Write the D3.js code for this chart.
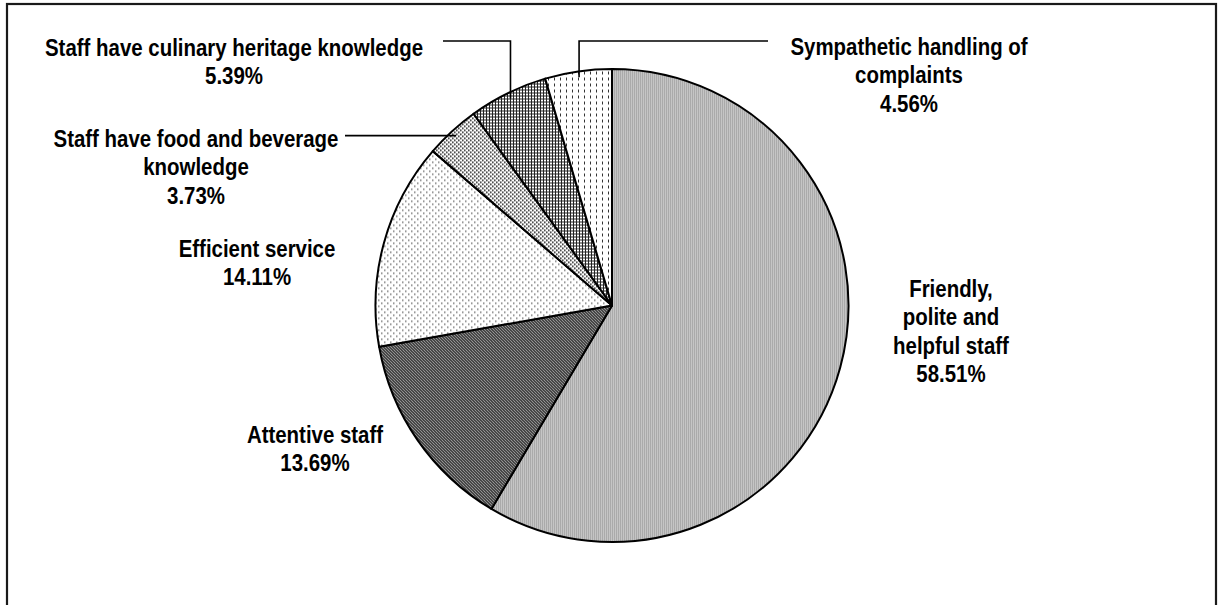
<!DOCTYPE html>
<html>
<head>
<meta charset="utf-8">
<script src="https://cdn.jsdelivr.net/npm/d3@7"></script>
<style>
  html, body { margin: 0; padding: 0; background: #fff; }
  svg { display: block; }
</style>
</head>
<body>
<svg id="chart" width="1218" height="605"></svg>
<script>
// ---- data ----
const categories = [
  "Friendly, polite and helpful staff",
  "Attentive staff",
  "Efficient service",
  "Staff have food and beverage knowledge",
  "Staff have culinary heritage knowledge",
  "Sympathetic handling of complaints"
];
const values = [58.51, 13.69, 14.11, 3.73, 5.39, 4.56];
const labelLines = [
  ["Friendly,", "polite and", "helpful staff", "58.51%"],
  ["Attentive staff", "13.69%"],
  ["Efficient service", "14.11%"],
  ["Staff have food and beverage", "knowledge", "3.73%"],
  ["Staff have culinary heritage knowledge", "5.39%"],
  ["Sympathetic handling of", "complaints", "4.56%"]
];

// ---- layout ----
const W = 1218, H = 605;
const cx = 612, cy = 305.5, R = 236.5;
const fontSize = 24.5, lineH = 28.4;
// label anchor: centre x and first baseline y
const labelPos = [
  [951, 297],
  [315, 443],
  [257, 257],
  [196, 147],
  [234, 56],
  [909, 55]
];
const leaders = [
  {i: 4, x0: 443, y: 41},
  {i: 5, x0: 768, y: 41},
  {i: 3, x0: 345, y: null}
];

const svg = d3.select("#chart");
const defs = svg.append("defs");

function pat(id, w, h, build) {
  const p = defs.append("pattern").attr("id", id)
    .attr("patternUnits", "userSpaceOnUse").attr("width", w).attr("height", h);
  p.append("rect").attr("width", w).attr("height", h).attr("fill", "#fff");
  build(p);
}
// Friendly: fine zigzag weave
pat("p0", 4, 4, p => {
  [[0,0],[1,1],[2,0],[3,1],[0,2],[1,3],[2,2],[3,3]].forEach(([x,y]) =>
    p.append("rect").attr("x", x).attr("y", y).attr("width", 1).attr("height", 1)
      .attr("fill", (y % 2 === 0) ? "#555" : "#8a8a8a"));
});
// Attentive: dense diagonals
pat("p1", 3, 3, p => {
  p.append("path").attr("d", "M-1,-1 L4,4 M-1,2 L1,4 M2,-1 L4,1")
    .attr("stroke", "#000").attr("stroke-width", 1.25);
});
// Efficient: sparse dots
pat("p2", 6, 6, p => {
  p.append("rect").attr("x", 0).attr("y", 0).attr("width", 1.5).attr("height", 1.5).attr("fill", "#777");
  p.append("rect").attr("x", 3).attr("y", 3).attr("width", 1.5).attr("height", 1.5).attr("fill", "#777");
});
// Food: denser dots
pat("p3", 4, 4, p => {
  p.append("rect").attr("x", 0).attr("y", 0).attr("width", 1.6).attr("height", 1.6).attr("fill", "#222");
  p.append("rect").attr("x", 2).attr("y", 2).attr("width", 1.6).attr("height", 1.6).attr("fill", "#222");
});
// Culinary: small grid
pat("p4", 3, 3, p => {
  p.append("rect").attr("x", 0).attr("y", 0).attr("width", 3).attr("height", 1).attr("fill", "#222");
  p.append("rect").attr("x", 0).attr("y", 0).attr("width", 1).attr("height", 3).attr("fill", "#222");
});
// Sympathetic: vertical dashes
pat("p5", 6, 6, p => {
  p.append("rect").attr("x", 2).attr("y", 0).attr("width", 1).attr("height", 3).attr("fill", "#333");
});

// frame
svg.append("rect").attr("x", 7).attr("y", 4).attr("width", 1209).attr("height", 640)
  .attr("fill", "none").attr("stroke", "#1a1a1a").attr("stroke-width", 2.2);

const pie = d3.pie().sort(null).value(d => d)(values);
const arc = d3.arc().innerRadius(0).outerRadius(R);

const g = svg.append("g").attr("transform", `translate(${cx},${cy})`);
g.selectAll("path.slice").data(pie).join("path")
  .attr("class", "slice")
  .attr("d", arc)
  .attr("fill", (d, i) => `url(#p${i})`)
  .attr("stroke", "#000").attr("stroke-width", 2).attr("stroke-linejoin", "round");

// leader lines
leaders.forEach(L => {
  const d = pie[L.i];
  const a = (d.startAngle + d.endAngle) / 2;
  const ex = cx + Math.sin(a) * R * 0.975;
  const ey = cy - Math.cos(a) * R * 0.975;
  let pts;
  if (L.y === null) pts = [[L.x0, ey], [ex, ey]];
  else pts = [[L.x0, L.y], [ex, L.y], [ex, ey]];
  svg.append("path").attr("d", d3.line()(pts))
    .attr("fill", "none").attr("stroke", "#000").attr("stroke-width", 1.6);
});

// labels
const texts = [];
labelLines.forEach((lines, i) => {
  const [x, y] = labelPos[i];
  lines.forEach((s, k) => {
    const t = svg.append("text")
      .attr("x", x).attr("y", y + k * lineH)
      .attr("text-anchor", "middle")
      .attr("font-family", "'Liberation Sans Narrow', 'Arial Narrow', 'Liberation Sans', Arial, sans-serif")
      .attr("font-weight", "bold")
      .attr("font-size", fontSize)
      .attr("fill", "#000")
      .text(s);
    texts.push(t);
  });
});
const probe = texts[labelLines.slice(0,4).reduce((a,l)=>a+l.length,0)];
const w = probe.node().getComputedTextLength();
if (w > 400) {
  const k = 378 / w;
  texts.forEach(t => {
    const tw = t.node().getComputedTextLength();
    t.attr("textLength", tw * k).attr("lengthAdjust", "spacingAndGlyphs");
  });
}
</script>
</body>
</html>
